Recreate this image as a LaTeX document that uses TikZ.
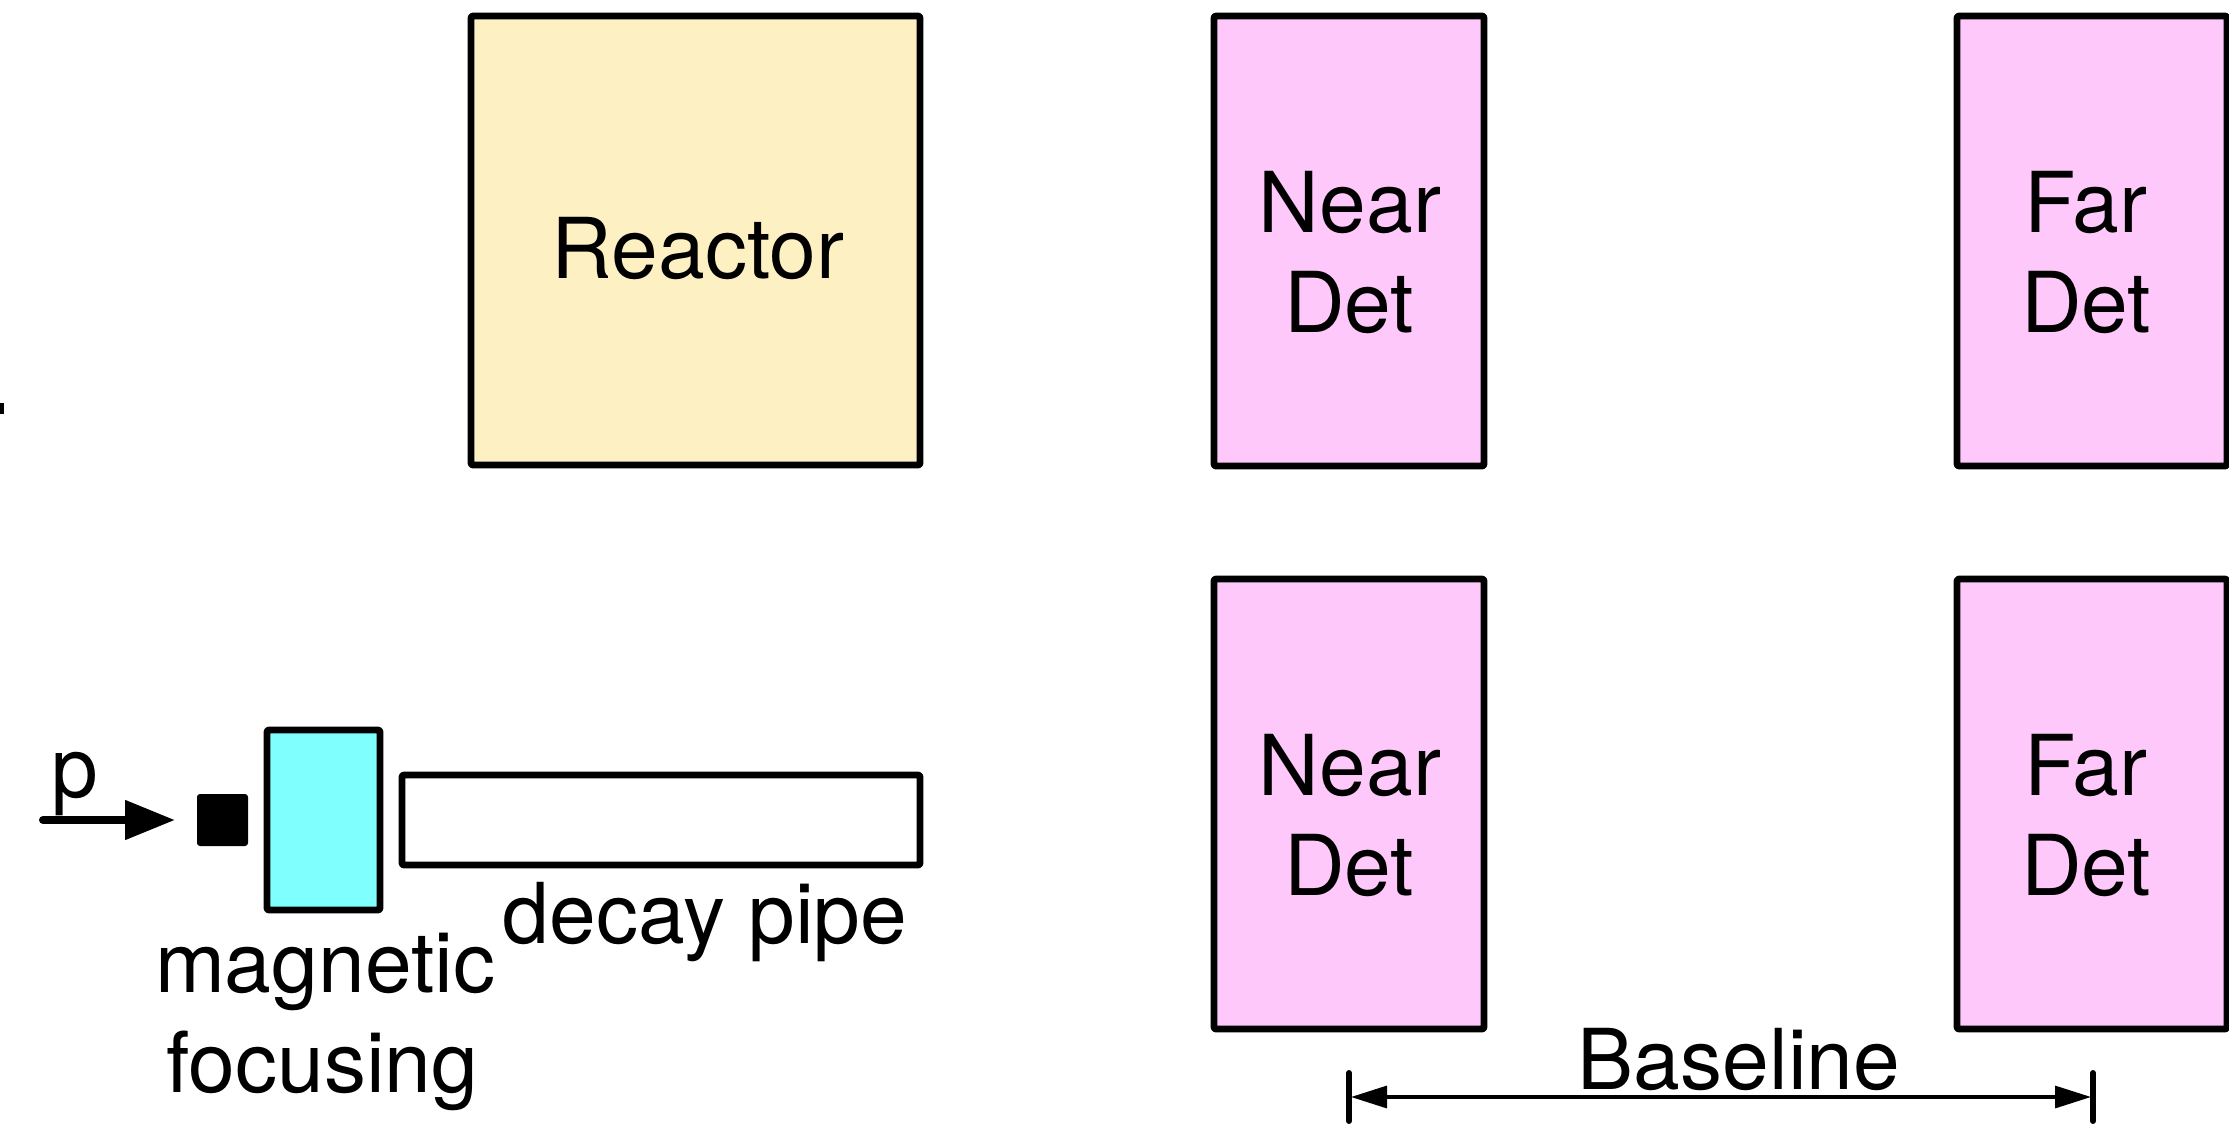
\documentclass[tikz,border=0pt]{standalone}
\usepackage{fontspec}
\setmainfont{TeX Gyre Heros}
\usetikzlibrary{arrows.meta}
\definecolor{reactorfill}{RGB}{253,241,196}
\definecolor{detfill}{RGB}{255,200,250}
\definecolor{magfill}{RGB}{128,255,255}
\tikzset{
  box/.style={draw=black, line width=3.4pt, rounded corners=1pt, inner sep=0pt, line join=round},
  lbl/.style={anchor=base, inner sep=0pt, font=\fontsize{42}{50}\selectfont},
  detbox/.style={box, fill=detfill, minimum width=135pt, minimum height=225pt},
  tick/.style={line width=3pt, line cap=round},
}
\begin{document}
\begin{tikzpicture}[x=0.5pt, y=-0.5pt]
\useasboundingbox (0,0) rectangle (2229,1125);
% small mark at left edge
\fill[black] (0,403) rectangle (4,414);

% top row
\node[box, fill=reactorfill, minimum width=224.5pt, minimum height=224.5pt] (reactor) at (695.5,240.5) {};
\node[lbl] (reactortxt) at (698,278) {Reactor};

\node[detbox] (neartop) at (1349,241) {};
\node[lbl] (neartop1) at (1350,232) {Near};
\node[lbl] (neartop2) at (1349,332) {Det};

\node[detbox] (fartop) at (2092,241) {};
\node[lbl] (fartop1) at (2086,232) {Far};
\node[lbl] (fartop2) at (2086,332) {Det};

% bottom row
\node[detbox] (nearbot) at (1349,804) {};
\node[lbl] (nearbot1) at (1350,795) {Near};
\node[lbl] (nearbot2) at (1349,895) {Det};

\node[detbox] (farbot) at (2092,804) {};
\node[lbl] (farbot1) at (2086,795) {Far};
\node[lbl] (farbot2) at (2086,895) {Det};

% beam line
\node[fill=black, rounded corners=1.5pt, inner sep=0pt, minimum width=25.5pt, minimum height=26pt] (target) at (222.5,820) {};
\node[box, fill=magfill, minimum width=56.5pt, minimum height=90pt] (horn) at (323.5,820) {};
\node[box, fill=white, minimum width=259pt, minimum height=45pt] (pipe) at (661,820) {};

\coordinate (pstart) at (43,820);
\coordinate (ptip) at (175,820);
\draw[line width=4pt, line cap=round, -{Triangle[length=25pt, width=19pt]}] (pstart) -- (ptip);
\node[lbl] (plbl) at (75,797) {p};

\node[lbl] (mag1) at (325,992) {magnetic};
\node[lbl] (mag2) at (322,1092) {focusing};
\node[lbl] (pipelbl) at (705,943) {decay pipe};

% baseline dimension
\coordinate (bl) at (1351,1097);
\coordinate (br) at (2091,1097);
\coordinate (bltop) at (1349,1073);
\coordinate (blbot) at (1349,1121);
\coordinate (brtop) at (2093,1073);
\coordinate (brbot) at (2093,1121);
\draw[tick] (bltop) -- (blbot);
\draw[tick] (brtop) -- (brbot);
\draw[line width=1.6pt, {Triangle[length=18pt, width=11pt]}-{Triangle[length=18pt, width=11pt]}] (bl) -- (br);
\node[lbl] (baselinelbl) at (1739,1089) {Baseline};
\end{tikzpicture}
\end{document}
